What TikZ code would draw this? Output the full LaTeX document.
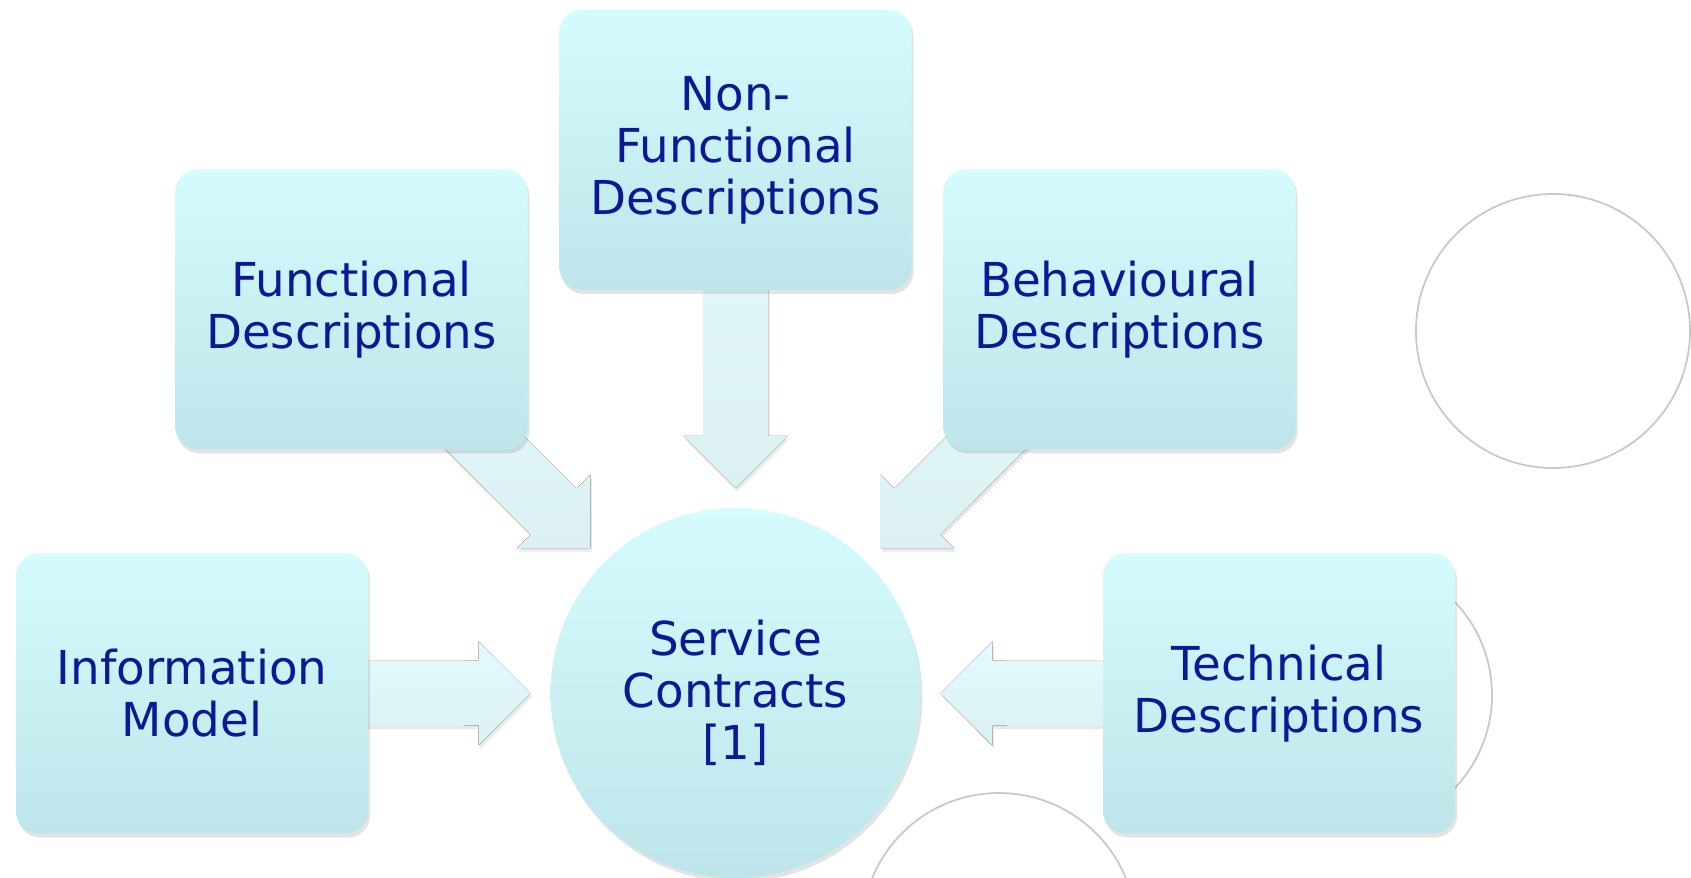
\documentclass[tikz,border=0pt]{standalone}
\usepackage{fontspec}
\setmainfont{DejaVu Sans}
\usetikzlibrary{calc,shadows,backgrounds}

\definecolor{boxtop}{RGB}{212,252,254}
\definecolor{boxbottom}{RGB}{190,230,234}
\definecolor{arrowtop}{RGB}{228,250,252}
\definecolor{arrowbottom}{RGB}{220,240,243}
\definecolor{labelblue}{RGB}{12,24,150}
\definecolor{ringgrey}{RGB}{200,200,200}

\tikzset{
  descbox/.style={rectangle, rounded corners=0.22cm, minimum width=3.52cm, minimum height=2.8cm,
    inner sep=0pt, top color=boxtop, bottom color=boxbottom, text=labelblue, align=center,
    font=\fontsize{13.3}{14.8}\selectfont,
    drop shadow={shadow xshift=0.02cm, shadow yshift=-0.04cm, opacity=0.22}},
  hub/.style={descbox, circle, minimum size=3.7cm},
  feedarrow/.style={top color=arrowtop, bottom color=arrowbottom,
    drop shadow={shadow xshift=0.015cm, shadow yshift=-0.035cm, opacity=0.18}},
  ring/.style={draw=ringgrey, line width=0.5pt}
}

\begin{document}
\begin{tikzpicture}
\useasboundingbox (0,0) rectangle (16.91,8.77);

%the hub and the five description boxes
\node[hub] (sc) at (7.355,1.84) {Service\\Contracts\\{[1]}};
\node[descbox] (func) at (3.515,5.675) {Functional\\Descriptions};
\node[descbox] (nonfunc) at (7.355,7.27) {Non-\\Functional\\Descriptions};
\node[descbox] (behav) at (11.195,5.675) {Behavioural\\Descriptions};
\node[descbox] (info) at (1.92,1.835) {Information\\Model};
\node[descbox] (tech) at (12.79,1.835) {Technical\\Descriptions};

\begin{scope}[on background layer]
%empty grey rings
\draw[ring] (15.53,5.46) circle (1.37);
\draw[ring] (13.57,1.82) circle (1.35);
\draw[ring] (9.99,-0.53) circle (1.37);

%block arrows, the tip stops a bit short of the hub
\foreach \src in {func,nonfunc,behav,info,tech}{
  \coordinate (tip-\src) at ($(sc.center)!2.05cm!(\src.center)$);
  \coordinate (base-\src) at ($(tip-\src)!0.52cm!(\src.center)$);
  \fill[feedarrow] ($(\src.center)!0.325cm!90:(tip-\src)$)
    -- ($(base-\src)!0.325cm!90:(tip-\src)$)
    -- ($(base-\src)!0.52cm!90:(tip-\src)$)
    -- (tip-\src)
    -- ($(base-\src)!0.52cm!-90:(tip-\src)$)
    -- ($(base-\src)!0.325cm!-90:(tip-\src)$)
    -- ($(\src.center)!0.325cm!-90:(tip-\src)$) -- cycle;
}
\end{scope}
\end{tikzpicture}
\end{document}
